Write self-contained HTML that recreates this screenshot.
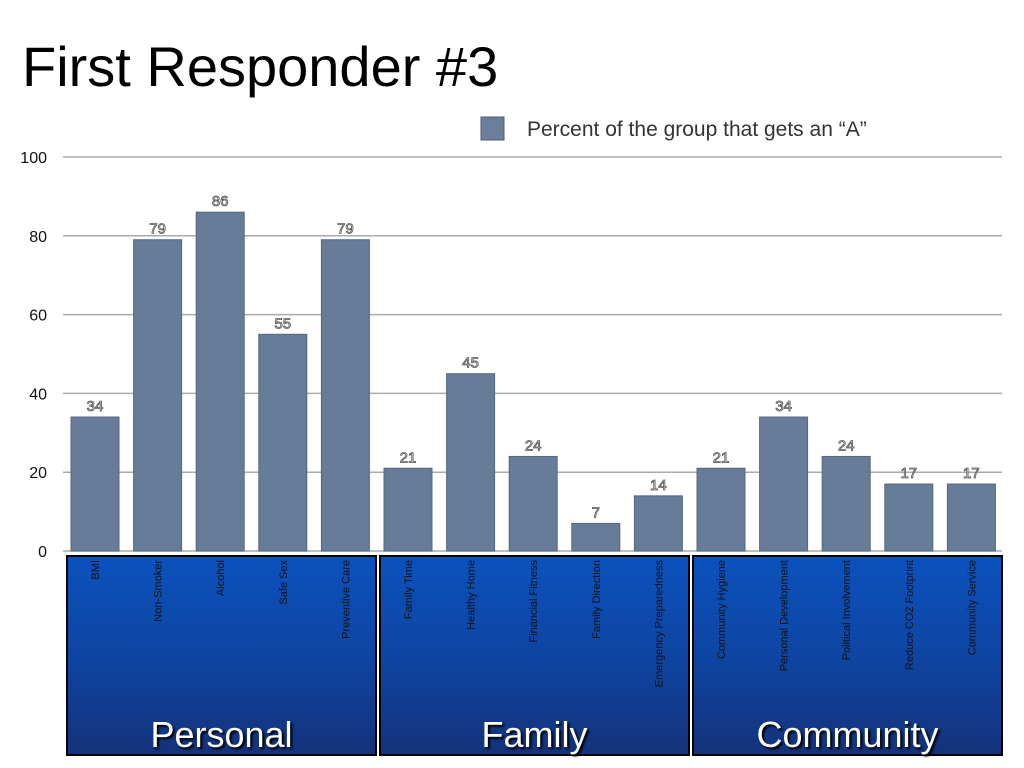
<!DOCTYPE html>
<html><head><meta charset="utf-8"><style>
body{margin:0;background:#fff;}
svg{display:block;font-family:"Liberation Sans",sans-serif;}
</style></head><body>
<svg id="chart" width="1024" height="768" viewBox="0 0 1024 768">
<defs>
<linearGradient id="bg" x1="0" y1="0" x2="0" y2="1"><stop offset="0" stop-color="#0b52bd"/><stop offset="0.5" stop-color="#0e45a3"/><stop offset="1" stop-color="#14327a"/></linearGradient>
</defs>
<text x="22" y="86" font-size="56" fill="#000">First Responder #3</text>
<rect x="481" y="117" width="23" height="23" fill="#6a7f9b" stroke="#4c5c72"/>
<text x="527" y="136" font-size="21" fill="#333">Percent of the group that gets an “A”</text>
<g id="grid"></g><g id="bars"></g><g id="groups"></g>
</svg>
<script>
const categories=["BMI","Non-Smoker","Alcohol","Safe Sex","Preventive Care","Family Time","Healthy Home","Financial Fitness","Family Direction","Emergency Preparedness","Community Hygiene","Personal Development","Political Involvement","Reduce CO2 Footprint","Community Service"];
const values=[34,79,86,55,79,21,45,24,7,14,21,34,24,17,17];
const yTicks=[0,20,40,60,80,100];
const groupNames=["Personal","Family","Community"];
const groupSizes=[5,5,5];
const NS="http://www.w3.org/2000/svg";
const y=v=>551-v*3.94;
const x=i=>95+i*62.6;
function mk(t,a,p){const e=document.createElementNS(NS,t);for(const k in a)e.setAttribute(k,a[k]);p.appendChild(e);return e;}
const grid=document.getElementById('grid');
yTicks.forEach(t=>{
 const l=mk('line',{x1:63,x2:1002,y1:y(t),y2:y(t),stroke:'#aaa','stroke-width':1.5},grid);
 
 
 const tx=mk('text',{x:47,y:y(t)+6,'font-size':16,'text-anchor':'end',fill:'#111'},grid);
 tx.textContent=t;
 
 
});
const bars=document.getElementById('bars');
values.forEach((v,i)=>{
 const r=mk('rect',{x:x(i)-24,y:y(v),width:48,height:y(0)-y(v),fill:'#677c98',stroke:'#56677f','stroke-width':1},bars);
 
 
 const t=mk('text',{x:x(i),y:y(v)-6,'font-size':15,'text-anchor':'middle',fill:'#eee',stroke:'#555','stroke-width':0.8},bars);
 t.textContent=v;
 
 
});
const groups=document.getElementById('groups');
let idx=0;
const gx=[67,380,693],gw=309;
groupNames.forEach((g,gi)=>{
 const b=mk('rect',{x:gx[gi],y:556,width:gw,height:199,fill:'url(#bg)',stroke:'#000','stroke-width':2},groups);
 
 
 const t=mk('text',{x:gx[gi]+gw/2,y:747,'font-size':36,'text-anchor':'middle',fill:'#fff',style:'text-shadow:2px 2px 2px #000'},groups);
 t.textContent=g;
 
 
 for(let k=0;k<groupSizes[gi];k++,idx++){
  const c=mk('text',{transform:`translate(${x(idx)+4},560) rotate(-90)`,'font-size':11,'text-anchor':'end',fill:'#111'},groups);
  c.textContent=categories[idx];
  
  
 }
});
</script>
</body></html>
